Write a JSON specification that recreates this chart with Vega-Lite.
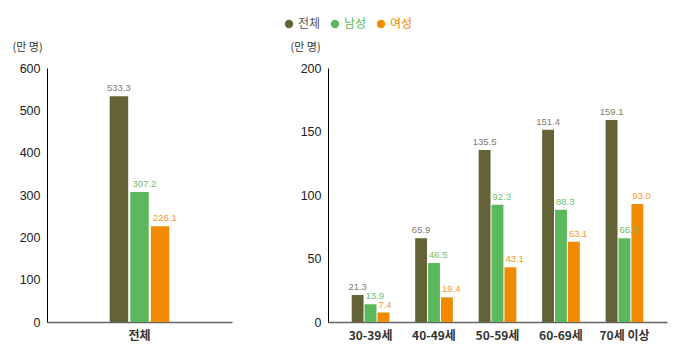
{
  "$schema": "https://vega.github.io/schema/vega-lite/v6.json",
  "padding": {"left": 12, "top": 18, "right": 5, "bottom": 5},
  "background": "white",
  "datasets": {
    "total": [
      {"group": "전체", "gender": "전체", "value": 533.3},
      {"group": "전체", "gender": "남성", "value": 307.2},
      {"group": "전체", "gender": "여성", "value": 226.1}
    ],
    "age": [
      {"group": "30-39세", "gender": "전체", "value": 21.3},
      {"group": "30-39세", "gender": "남성", "value": 13.9},
      {"group": "30-39세", "gender": "여성", "value": 7.4},
      {"group": "40-49세", "gender": "전체", "value": 65.9},
      {"group": "40-49세", "gender": "남성", "value": 46.5},
      {"group": "40-49세", "gender": "여성", "value": 19.4},
      {"group": "50-59세", "gender": "전체", "value": 135.5},
      {"group": "50-59세", "gender": "남성", "value": 92.3},
      {"group": "50-59세", "gender": "여성", "value": 43.1},
      {"group": "60-69세", "gender": "전체", "value": 151.4},
      {"group": "60-69세", "gender": "남성", "value": 88.3},
      {"group": "60-69세", "gender": "여성", "value": 63.1},
      {"group": "70세 이상", "gender": "전체", "value": 159.1},
      {"group": "70세 이상", "gender": "남성", "value": 66.0},
      {"group": "70세 이상", "gender": "여성", "value": 93.0}
    ]
  },
  "config": {
    "font": "Noto Sans CJK KR",
    "view": {"stroke": null},
    "axis": {"grid": false, "ticks": false, "titleFont": "Noto Sans CJK KR"},
    "legend": {"labelFont": "Noto Sans CJK KR"}
  },
  "resolve": {"scale": {"xOffset": "independent", "x": "independent", "y": "independent"}},
  "spacing": 58,
  "hconcat": [
    {
      "width": 185,
      "height": 254,
      "data": {"name": "total"},
      "encoding": {
        "x": {"field": "group", "type": "nominal", "title": null,
          "scale": {"paddingInner": 0, "paddingOuter": 1.095},
          "axis": {"labelAngle": 0, "labelFont": "Noto Sans CJK KR", "labelFontSize": 12, "labelFontWeight": "bold", "labelColor": "#333", "labelPadding": 8, "domainColor": "#666", "domainWidth": 1.5}},
        "xOffset": {"field": "gender", "type": "nominal", "sort": ["전체", "남성", "여성"], "scale": {"domain": ["전체", "남성", "여성"], "paddingInner": 0.1, "paddingOuter": 0.05}},
        "y": {"field": "value", "type": "quantitative", "scale": {"domain": [0, 600]},
          "axis": {"values": [0, 100, 200, 300, 400, 500, 600], "title": "(만 명)", "titleAngle": 0, "titleAlign": "left", "titleBaseline": "middle", "titleX": -35, "titleY": -21, "titleFontSize": 11, "titleFontWeight": "normal", "titleColor": "#333", "labelFont": "Liberation Sans", "labelFontSize": 12.5, "labelColor": "#222", "labelPadding": 7, "domainColor": "#000"}}
      },
      "layer": [
        {"mark": {"type": "bar"},
          "encoding": {"color": {"field": "gender", "type": "nominal", "sort": ["전체", "남성", "여성"],
            "scale": {"domain": ["전체", "남성", "여성"], "range": ["#636337", "#5cb85c", "#f08a00"]},
            "legend": {"title": null, "orient": "none", "direction": "horizontal", "legendX": 236, "legendY": -50, "symbolType": "circle", "symbolSize": 70, "labelFontSize": 12, "columnPadding": 8, "labelOffset": 3,
              "labelColor": {"expr": "datum.label == '남성' ? '#5cb85c' : datum.label == '여성' ? '#f08a00' : '#555'"}}}}},
        {"transform": [{"filter": "datum.gender == '전체'"}],
          "mark": {"type": "text", "dy": -5, "fontSize": 9.5, "font": "Liberation Sans", "baseline": "alphabetic", "align": "center"},
          "encoding": {"text": {"field": "value", "type": "quantitative", "format": ".1f"},
            "fill": {"field": "gender", "type": "nominal", "scale": {"domain": ["전체", "남성", "여성"], "range": ["#7d7d6a", "#6cc06c", "#f29a2e"]}, "legend": null}}},
        {"transform": [{"filter": "datum.gender != '전체'"}],
          "mark": {"type": "text", "dy": -5, "dx": -7, "fontSize": 9.5, "font": "Liberation Sans", "baseline": "alphabetic", "align": "left"},
          "encoding": {"text": {"field": "value", "type": "quantitative", "format": ".1f"},
            "fill": {"field": "gender", "type": "nominal", "scale": {"domain": ["전체", "남성", "여성"], "range": ["#7d7d6a", "#6cc06c", "#f29a2e"]}, "legend": null}}}
      ]
    },
    {
      "width": 339,
      "height": 254,
      "data": {"name": "age"},
      "encoding": {
        "x": {"field": "group", "type": "nominal", "title": null, "sort": null,
          "scale": {"paddingInner": 0, "paddingOuter": 0.17},
          "axis": {"labelAngle": 0, "labelFont": "Noto Sans CJK KR", "labelFontSize": 12, "labelFontWeight": "bold", "labelColor": "#333", "labelPadding": 8, "domainColor": "#666", "domainWidth": 1.5}},
        "xOffset": {"field": "gender", "type": "nominal", "sort": ["전체", "남성", "여성"], "scale": {"domain": ["전체", "남성", "여성"], "paddingInner": 0.08, "paddingOuter": 1.195}},
        "y": {"field": "value", "type": "quantitative", "scale": {"domain": [0, 200]},
          "axis": {"values": [0, 50, 100, 150, 200], "title": "(만 명)", "titleAngle": 0, "titleAlign": "left", "titleBaseline": "middle", "titleX": -38, "titleY": -21, "titleFontSize": 11, "titleFontWeight": "normal", "titleColor": "#333", "labelFont": "Liberation Sans", "labelFontSize": 12.5, "labelColor": "#222", "labelPadding": 7, "domainColor": "#000"}}
      },
      "layer": [
        {"mark": {"type": "bar"},
          "encoding": {"color": {"field": "gender", "type": "nominal", "sort": ["전체", "남성", "여성"],
            "scale": {"domain": ["전체", "남성", "여성"], "range": ["#636337", "#5cb85c", "#f08a00"]}}}},
        {"transform": [{"filter": "datum.gender == '전체'"}],
          "mark": {"type": "text", "dy": -5, "fontSize": 9.5, "font": "Liberation Sans", "baseline": "alphabetic", "align": "center"},
          "encoding": {"text": {"field": "value", "type": "quantitative", "format": ".1f"},
            "fill": {"field": "gender", "type": "nominal", "scale": {"domain": ["전체", "남성", "여성"], "range": ["#7d7d6a", "#6cc06c", "#f29a2e"]}, "legend": null}}},
        {"transform": [{"filter": "datum.gender != '전체'"}],
          "mark": {"type": "text", "dy": -5, "dx": -5, "fontSize": 9.5, "font": "Liberation Sans", "baseline": "alphabetic", "align": "left"},
          "encoding": {"text": {"field": "value", "type": "quantitative", "format": ".1f"},
            "fill": {"field": "gender", "type": "nominal", "scale": {"domain": ["전체", "남성", "여성"], "range": ["#7d7d6a", "#6cc06c", "#f29a2e"]}, "legend": null}}}
      ]
    }
  ]
}
